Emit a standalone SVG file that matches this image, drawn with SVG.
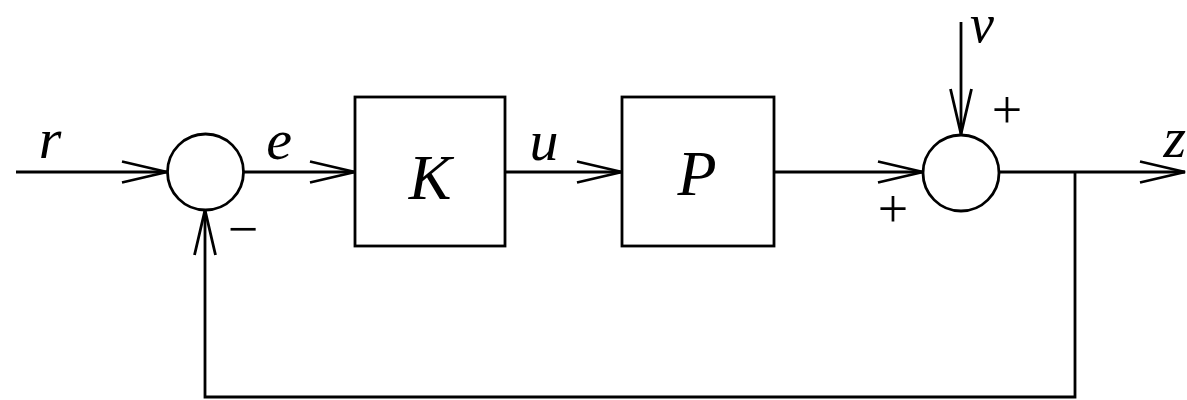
<svg xmlns="http://www.w3.org/2000/svg" width="1187" height="400" viewBox="0 0 1187 400">
<style>
.ln{fill:none;stroke:#000;stroke-width:2.8;stroke-linejoin:miter}
.bx{fill:#fff;stroke:#000;stroke-width:2.8}
.lb{font-family:"Liberation Serif",serif;font-style:italic;font-size:58px;fill:#000;text-anchor:middle}
.big{font-family:"Liberation Serif",serif;font-style:italic;font-size:64px;fill:#000;text-anchor:middle}
.sg{font-family:"Liberation Serif",serif;font-size:54px;fill:#000;text-anchor:middle}
</style>
<defs>
<marker id="ah" viewBox="-46 -12 50 24" refX="0" refY="0" markerWidth="50" markerHeight="24" markerUnits="userSpaceOnUse" orient="auto" overflow="visible">
<path d="M-45,-10.5 L0,0 L-45,10.5" fill="none" stroke="#000" stroke-width="2.8"/>
</marker>
</defs>
<rect width="1187" height="400" fill="#fff"/>
<g id="connectors">
<path class="ln" d="M16,172 H167" marker-end="url(#ah)"/>
<path class="ln" d="M244,172 H355" marker-end="url(#ah)"/>
<path class="ln" d="M505,172 H622" marker-end="url(#ah)"/>
<path class="ln" d="M774,172 H923" marker-end="url(#ah)"/>
<path class="ln" d="M961,22 V134" marker-end="url(#ah)"/>
<path class="ln" d="M999,172 H1185" marker-end="url(#ah)"/>
<path class="ln" d="M1075,172 V397 H205 V210" marker-end="url(#ah)"/>
</g>
<g id="sum1"><circle class="bx" cx="205.5" cy="172" r="38"/></g>
<g id="K"><rect class="bx" x="355" y="97" width="150" height="149"/><text class="big" x="430" y="199">K</text></g>
<g id="P"><rect class="bx" x="622" y="97" width="152" height="149"/><text class="big" x="697" y="195">P</text></g>
<g id="sum2"><circle class="bx" cx="961" cy="173" r="38"/></g>
<g id="labels">
<text class="lb" x="50" y="158">r</text>
<text class="lb" x="279" y="159">e</text>
<text class="lb" x="544" y="160">u</text>
<text class="lb" x="982" y="42" style="font-size:54px">v</text>
<text class="lb" x="1186" y="157" style="text-anchor:end">z</text>
<text class="sg" x="1007" y="128">+</text>
<text class="sg" x="893" y="227">+</text>
<text class="sg" x="243" y="247">−</text>
</g>
</svg>
